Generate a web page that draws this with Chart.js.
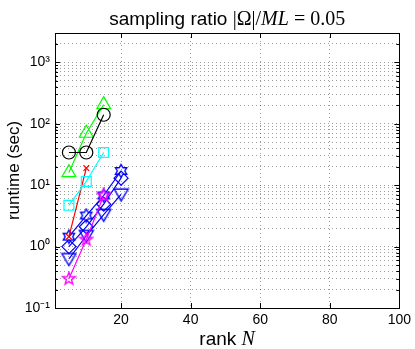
<!DOCTYPE html>
<html>
<head>
<meta charset="utf-8">
<script src="https://cdn.jsdelivr.net/npm/chart.js@4.4.0/dist/chart.umd.min.js"></script>
<style>
  html, body { margin: 0; padding: 0; background: #fff; }
</style>
</head>
<body>
<canvas id="runtimeCanvas" width="415" height="349"></canvas>
<script>
// rank N values used on the x axis
var rankN = [5, 10, 15, 20];

// runtimes (sec), one list per method
var circleTimes = [34, 34, 140];          // black o
var triangleTimes = [16, 70, 205];        // green ^
var squareTimes = [4.7, 11.5, 34];        // cyan square
var crossTimes = [1.45, 19];              // red x
var pentagramTimes = [0.3, 1.3, 6.8];     // magenta pentagram
var hexagramTimes = [1.45, 3.2, 6.8, 17]; // blue hexagram
var diamondTimes = [1.0, 2.1, 4.9, 13];   // blue diamond
var triDownTimes = [0.63, 1.5, 3.3, 7.1]; // blue v

var yTickDecades = [-1, 0, 1, 2, 3];
var xTickValues = [20, 40, 60, 80, 100];

var colors = {
    black: '#000000',
    green: '#00ff00',
    cyan: '#00ffff',
    red: '#ff0000',
    magenta: '#ff00ff',
    blue: '#0000ff'
};

var sans = '"Liberation Sans", Arial, sans-serif';
var serif = '"Liberation Serif", "DejaVu Serif", serif';
var gridColor = 'rgba(0,0,0,0.38)';

// custom marker shapes that chart.js does not have
function marker(kind, color, size) {
    var c = document.createElement('canvas');
    c.width = size + 3;
    c.height = size + 3;
    var ctx = c.getContext('2d');
    var m = c.width / 2, r = size / 2;
    ctx.strokeStyle = color;
    ctx.lineWidth = 1.4;
    ctx.lineJoin = 'miter';
    ctx.beginPath();
    if (kind === 'tridown') {
        ctx.moveTo(m - r, m - r * 0.75);
        ctx.lineTo(m + r, m - r * 0.75);
        ctx.lineTo(m, m + r * 0.95);
        ctx.closePath();
    } else {
        var n = kind === 'pentagram' ? 5 : 6;
        var inner = kind === 'pentagram' ? 0.42 : 0.58;
        for (var i = 0; i < 2 * n; i++) {
            var a = -Math.PI / 2 + i * Math.PI / n;
            var rr = i % 2 ? r * inner : r;
            var px = m + rr * Math.cos(a), py = m + rr * Math.sin(a);
            if (i === 0) ctx.moveTo(px, py); else ctx.lineTo(px, py);
        }
        ctx.closePath();
    }
    ctx.stroke();
    return c;
}

function points(values) {
    return values.map(function (v, i) { return { x: rankN[i], y: v }; });
}

function series(values, color, style, radius) {
    return {
        data: points(values),
        borderColor: color,
        backgroundColor: 'transparent',
        borderWidth: 1.2,
        pointStyle: style,
        pointRadius: radius,
        pointBorderColor: color,
        pointBorderWidth: 1.2,
        pointBackgroundColor: 'transparent',
        tension: 0,
        fill: false
    };
}

var supDigits = { '-': '\u207b', '0': '\u2070', '1': '\u00b9', '2': '\u00b2', '3': '\u00b3' };
function sup(n) {
    return String(n).split('').map(function (ch) { return supDigits[ch]; }).join('');
}

function drawSegments(ctx, segs, cx, baseline) {
    var total = 0;
    segs.forEach(function (s) { ctx.font = s[1]; total += ctx.measureText(s[0]).width; });
    var x = cx - total / 2;
    ctx.textBaseline = 'alphabetic';
    ctx.textAlign = 'left';
    ctx.fillStyle = '#000';
    segs.forEach(function (s) {
        ctx.font = s[1];
        ctx.fillText(s[0], x, baseline);
        x += ctx.measureText(s[0]).width;
    });
}

// box, inner tick marks, title and x label with math parts
var framePlugin = {
    id: 'frame',
    afterDraw: function (chart) {
        var ctx = chart.ctx, a = chart.chartArea;
        var xs = chart.scales.x, ys = chart.scales.y;
        ctx.save();
        ctx.strokeStyle = '#000';
        ctx.lineWidth = 1;
        ctx.strokeRect(Math.round(a.left) + 0.5, Math.round(a.top) + 0.5,
            Math.round(a.right - a.left), Math.round(a.bottom - a.top));
        ctx.beginPath();
        xTickValues.forEach(function (v) {
            var px = Math.round(xs.getPixelForValue(v)) + 0.5;
            ctx.moveTo(px, a.bottom); ctx.lineTo(px, a.bottom - 5);
            ctx.moveTo(px, a.top); ctx.lineTo(px, a.top + 5);
        });
        ys.ticks.forEach(function (t) {
            var l = Math.log10(t.value);
            var len = Math.abs(l - Math.round(l)) < 1e-9 ? 5 : 3;
            var py = Math.round(ys.getPixelForValue(t.value)) + 0.5;
            ctx.moveTo(a.left, py); ctx.lineTo(a.left + len, py);
            ctx.moveTo(a.right, py); ctx.lineTo(a.right - len, py);
        });
        ctx.stroke();
        var cx = (a.left + a.right) / 2;
        drawSegments(ctx, [
            ['sampling ratio ', '19px ' + sans],
            ['|\u03a9|/', '20px ' + serif],
            ['ML', 'italic 20px ' + serif],
            [' = 0.05', '20px ' + serif]
        ], cx, 25);
        drawSegments(ctx, [
            ['rank ', '19px ' + sans],
            ['N', 'italic 20px ' + serif]
        ], cx, 345);
        ctx.restore();
    }
};

window.onload = function () {
    var ctx = document.getElementById('runtimeCanvas').getContext('2d');

    new Chart(ctx, {
        type: 'line',
        data: {
            datasets: [
                series(circleTimes, colors.black, 'circle', 6.5),
                series(triangleTimes, colors.green, 'triangle', 8),
                series(squareTimes, colors.cyan, 'rect', 7),
                series(crossTimes, colors.red, 'crossRot', 4),
                series(pentagramTimes, colors.magenta, marker('pentagram', colors.magenta, 13), 6),
                series(hexagramTimes, colors.blue, marker('hexagram', colors.blue, 13), 6),
                series(diamondTimes, colors.blue, 'rectRot', 7),
                series(triDownTimes, colors.blue, marker('tridown', colors.blue, 14), 7)
            ]
        },
        options: {
            responsive: false,
            animation: false,
            layout: { padding: { left: 0, right: 12, top: 33, bottom: 0 } },
            plugins: {
                legend: { display: false },
                title: { display: false },
                tooltip: { enabled: false }
            },
            scales: {
                x: {
                    type: 'linear',
                    min: 1,
                    max: 100,
                    afterBuildTicks: function (scale) {
                        scale.ticks = xTickValues.map(function (v) { return { value: v }; });
                    },
                    afterFit: function (scale) { scale.height = 41; },
                    ticks: {
                        color: '#000',
                        font: { family: sans, size: 14 },
                        padding: 4,
                        maxRotation: 0,
                        autoSkip: false
                    },
                    grid: { color: gridColor, lineWidth: 1, drawTicks: false },
                    border: { display: true, color: '#000', dash: [1, 3] }
                },
                y: {
                    type: 'logarithmic',
                    min: 0.1,
                    max: 3000,
                    afterBuildTicks: function (scale) {
                        var t = [];
                        yTickDecades.forEach(function (e) {
                            for (var k = 1; k <= 9; k++) {
                                var v = k * Math.pow(10, e);
                                if (v <= 3000) t.push({ value: v });
                            }
                        });
                        scale.ticks = t;
                    },
                    afterFit: function (scale) { scale.width = 55; },
                    ticks: {
                        color: '#000',
                        font: { family: sans, size: 14 },
                        padding: 5,
                        autoSkip: false,
                        callback: function (v) {
                            var l = Math.log10(v);
                            return Math.abs(l - Math.round(l)) < 1e-9 ? '10' + sup(Math.round(l)) : '';
                        }
                    },
                    title: {
                        display: true,
                        text: 'runtime (sec)',
                        color: '#000',
                        font: { family: sans, size: 17 },
                        padding: { top: 4, bottom: 0 }
                    },
                    grid: { color: gridColor, lineWidth: 1, drawTicks: false },
                    border: { display: true, color: '#000', dash: [1, 3] }
                }
            }
        },
        plugins: [framePlugin]
    });
};
</script>
</body>
</html>
